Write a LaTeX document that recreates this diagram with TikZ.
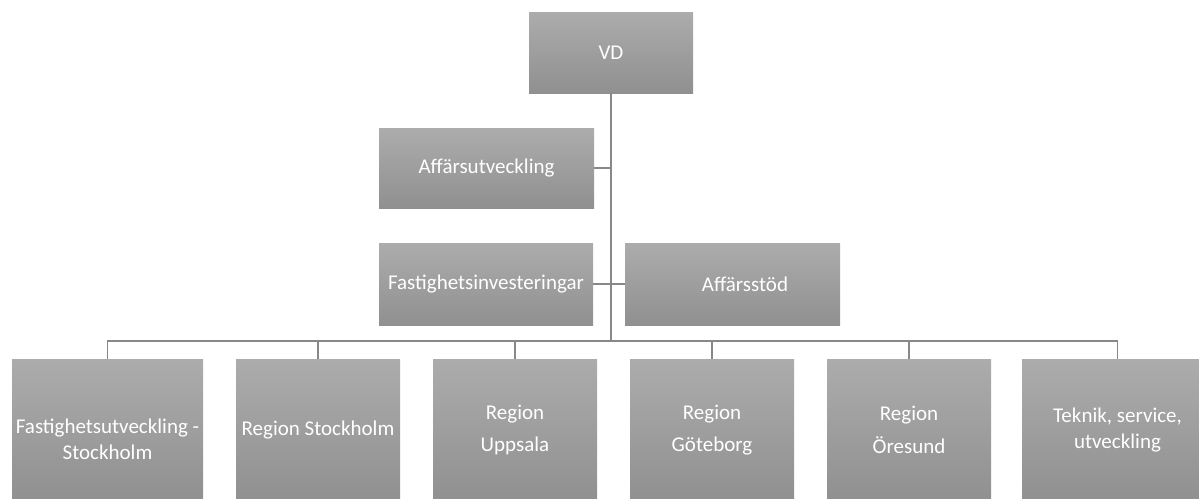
\documentclass[tikz,border=0pt]{standalone}
\usepackage{fontspec}
\setmainfont{Carlito}
\definecolor{boxtop}{RGB}{172,172,172}
\definecolor{boxbottom}{RGB}{144,144,144}
\definecolor{linkgray}{RGB}{136,136,136}
\tikzset{
  orgbox/.style={rectangle, draw=none, top color=boxtop, bottom color=boxbottom,
    text=white, align=center, inner sep=0pt,
    font=\fontsize{21}{25.6}\selectfont},
  link/.style={draw=linkgray, line width=1.3pt},
  trunk/.style={draw=linkgray, line width=1.8pt}
}
% lower a line of text without changing the node's size
\newcommand{\lowerline}[1]{\raisebox{-9pt}[\height][\depth]{#1}}
\begin{document}
\begin{tikzpicture}[x=1pt, y=-1pt]
\useasboundingbox (0,0) rectangle (1199,498);
\clip (0,0) rectangle (1199,498);

% top level
\node[orgbox, minimum width=164pt, minimum height=81pt] (vd) at (611,52.5) {VD};

% staff functions beside the trunk
\node[orgbox, minimum width=215pt, minimum height=80pt] (affu) at (486.5,168) {Affärsutveckling};
\node[orgbox, minimum width=214pt, minimum height=82pt] (fi) at (486,284) {Fastighetsinvesteringar};
\node[orgbox, minimum width=215pt, minimum height=82pt] (as) at (732.5,284) {\hspace*{25pt}Affärsstöd};

% operating units
\node[orgbox, minimum width=191pt, minimum height=142pt] (b1) at (107.5,430) {\lowerline{Fastighetsutveckling -}\\\lowerline{Stockholm}};
\node[orgbox, minimum width=164pt, minimum height=142pt] (b2) at (318,430) {Region Stockholm};
\node[orgbox, minimum width=164pt, minimum height=142pt] (b3) at (515,430) {Region\\[7pt]Uppsala};
\node[orgbox, minimum width=164pt, minimum height=142pt] (b4) at (712,430) {Region\\[7pt]Göteborg};
\node[orgbox, minimum width=164pt, minimum height=142pt] (b5) at (909,430) {Region\\[7pt]Öresund};
\node[orgbox, minimum width=191pt, minimum height=142pt] (b6) at (1117.5,430) {Teknik, service,\\utveckling};

% connectors
\coordinate (bus) at (611,341);
\draw[trunk] (vd.south) -- (bus);
\draw[link] (affu.east) -- (affu.east -| bus);
\draw[link] (fi.east) -- (fi.east -| bus);
\draw[link] (as.west) -- (as.west -| bus);
\foreach \b in {b1,b2,b3,b4,b5,b6}
  \draw[link] (bus) -| (\b.north);
\end{tikzpicture}
\end{document}
